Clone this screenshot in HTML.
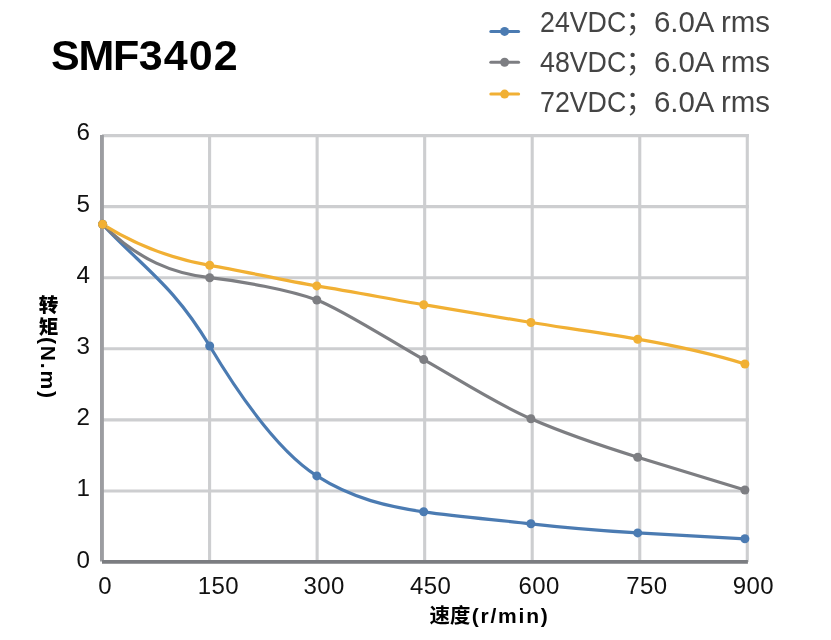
<!DOCTYPE html>
<html lang="zh"><head><meta charset="utf-8"><title>SMF3402</title>
<style>
html,body{margin:0;padding:0;background:#fff}
body{width:831px;height:640px;position:relative;overflow:hidden;font-family:"Liberation Sans","Noto Sans CJK SC",sans-serif;color:#111}
.t{position:absolute;left:51px;top:31px;font-size:43px;font-weight:bold;line-height:48px;letter-spacing:-0.3px;color:#000;white-space:nowrap}
.t .a{letter-spacing:-1.2px}
.t .b{letter-spacing:1.1px;margin-left:0.6px}
.yl{position:absolute;left:40px;width:50px;text-align:right;font-size:24.2px;line-height:28px;height:28px}
.xl{position:absolute;top:572px;width:80px;text-align:center;font-size:24px;line-height:28px;letter-spacing:0.4px}
.lg{position:absolute;font-size:30px;line-height:40px;height:40px;white-space:nowrap;color:#444;transform-origin:0 50%}
.lg.a{transform:scaleX(0.892)}
.lg.r{transform:scaleX(0.98)}
.lg.sc{font-size:28.5px}
.xt{position:absolute;left:429.5px;top:602px;font-size:20.4px;font-weight:bold;line-height:28px;white-space:nowrap;color:#000}
.xt span{font-size:21px;letter-spacing:1.8px;margin-left:1.4px}
.yt{position:absolute;left:34px;top:295px;width:28px;writing-mode:vertical-rl;font-size:19.6px;letter-spacing:2.6px;font-weight:bold;line-height:28px;white-space:nowrap;color:#000}
.yt span{font-size:21px;letter-spacing:1.85px;margin-top:-2.7px}
.yt b{position:relative;left:-1px}
</style></head><body>
<svg width="831" height="640" viewBox="0 0 831 640" style="position:absolute;left:0;top:0">
<g stroke="#cdced0" stroke-width="3.1" fill="none"><line x1="209.59" y1="134.05" x2="209.59" y2="562.02"/><line x1="317.13" y1="134.05" x2="317.13" y2="562.02"/><line x1="424.67" y1="134.05" x2="424.67" y2="562.02"/><line x1="532.21" y1="134.05" x2="532.21" y2="562.02"/><line x1="639.75" y1="134.05" x2="639.75" y2="562.02"/><line x1="747.29" y1="134.05" x2="747.29" y2="562.02"/><line x1="102.05" y1="135.60" x2="748.79" y2="135.60"/><line x1="102.05" y1="206.67" x2="748.79" y2="206.67"/><line x1="102.05" y1="277.74" x2="748.79" y2="277.74"/><line x1="102.05" y1="348.81" x2="748.79" y2="348.81"/><line x1="102.05" y1="419.88" x2="748.79" y2="419.88"/><line x1="102.05" y1="490.95" x2="748.79" y2="490.95"/></g>
<line x1="101.95" y1="135.1" x2="101.95" y2="561.6" stroke="#9c9da1" stroke-width="3.9"/>
<line x1="102" y1="561.9" x2="747.9" y2="561.9" stroke="#7b7d81" stroke-width="3.7"/>
<g fill="none" stroke-width="3.2" stroke-linecap="round" stroke-linejoin="round">
<path d="M102.60 224.30 C143.60 268.29 172.70 284.32 209.70 346.00 C242.30 400.34 281.10 453.02 316.80 475.90 C352.40 498.72 389.20 507.04 423.70 511.80 C459.43 516.73 495.17 519.69 530.90 523.80 C566.50 527.89 602.10 530.69 637.70 532.90 C673.43 535.12 709.17 537.01 744.90 538.80" stroke="#4b7bb2"/>
<path d="M102.60 224.30 C139.10 260.73 173.60 273.73 209.70 277.70 C240.30 281.07 288.90 289.70 316.80 300.00 C341.10 308.97 392.00 341.75 423.70 359.60 C458.00 378.91 493.90 402.71 530.90 418.80 C566.50 434.29 602.10 446.16 637.70 457.20 C673.43 468.28 709.17 479.28 744.90 490.00" stroke="#7d7e82"/>
<path d="M102.60 224.30 C137.10 245.69 175.00 259.44 209.70 265.30 C245.50 271.35 281.20 280.03 316.80 285.90 C352.43 291.78 388.07 298.57 423.70 304.70 C459.43 310.85 495.17 316.89 530.90 322.50 C566.50 328.09 602.10 332.97 637.70 339.20 C673.43 345.45 709.17 352.92 744.90 364.00" stroke="#f1b034"/>
</g>
<circle cx="102.6" cy="224.3" r="4.5" fill="#4b7bb2"/><circle cx="209.7" cy="346.0" r="4.5" fill="#4b7bb2"/><circle cx="316.8" cy="475.9" r="4.5" fill="#4b7bb2"/><circle cx="423.7" cy="511.8" r="4.5" fill="#4b7bb2"/><circle cx="530.9" cy="523.8" r="4.5" fill="#4b7bb2"/><circle cx="637.7" cy="532.9" r="4.5" fill="#4b7bb2"/><circle cx="744.9" cy="538.8" r="4.5" fill="#4b7bb2"/><circle cx="102.6" cy="224.3" r="4.5" fill="#7d7e82"/><circle cx="209.7" cy="277.7" r="4.5" fill="#7d7e82"/><circle cx="316.8" cy="300.0" r="4.5" fill="#7d7e82"/><circle cx="423.7" cy="359.6" r="4.5" fill="#7d7e82"/><circle cx="530.9" cy="418.8" r="4.5" fill="#7d7e82"/><circle cx="637.7" cy="457.2" r="4.5" fill="#7d7e82"/><circle cx="744.9" cy="490.0" r="4.5" fill="#7d7e82"/><circle cx="102.6" cy="224.3" r="4.5" fill="#f1b034"/><circle cx="209.7" cy="265.3" r="4.5" fill="#f1b034"/><circle cx="316.8" cy="285.9" r="4.5" fill="#f1b034"/><circle cx="423.7" cy="304.7" r="4.5" fill="#f1b034"/><circle cx="530.9" cy="322.5" r="4.5" fill="#f1b034"/><circle cx="637.7" cy="339.2" r="4.5" fill="#f1b034"/><circle cx="744.9" cy="364.0" r="4.5" fill="#f1b034"/>
<g stroke-width="3" stroke-linecap="round">
<line x1="490.8" y1="31.4" x2="518.6" y2="31.4" stroke="#4b7bb2"/><circle cx="504.6" cy="31.4" r="4.5" fill="#4b7bb2"/>
<line x1="490.8" y1="62.2" x2="518.6" y2="62.2" stroke="#7d7e82"/><circle cx="504.6" cy="62.2" r="4.5" fill="#7d7e82"/>
<line x1="490.8" y1="94.1" x2="518.6" y2="94.1" stroke="#f1b034"/><circle cx="504.6" cy="94.1" r="4.5" fill="#f1b034"/>
</g>
</svg>
<div class="t"><span class="a">SMF</span><span class="b">3402</span></div>
<div class="lg a" style="top:2.2px;left:539.6px">24VDC</div><div class="lg sc" style="top:1.0px;left:625.4px">；</div><div class="lg r" style="top:2.2px;left:653.8px">6.0A rms</div><div class="lg a" style="top:42.2px;left:539.6px">48VDC</div><div class="lg sc" style="top:41.0px;left:625.4px">；</div><div class="lg r" style="top:42.2px;left:653.8px">6.0A rms</div><div class="lg a" style="top:81.7px;left:539.6px">72VDC</div><div class="lg sc" style="top:80.5px;left:625.4px">；</div><div class="lg r" style="top:81.7px;left:653.8px">6.0A rms</div>
<div class="yl" style="top:118.3px">6</div><div class="yl" style="top:189.5px">5</div><div class="yl" style="top:260.7px">4</div><div class="yl" style="top:331.9px">3</div><div class="yl" style="top:403.1px">2</div><div class="yl" style="top:474.3px">1</div><div class="yl" style="top:545.5px">0</div>
<div class="xl" style="left:65.1px">0</div><div class="xl" style="left:178.4px">150</div><div class="xl" style="left:284.1px">300</div><div class="xl" style="left:390.6px">450</div><div class="xl" style="left:499.1px">600</div><div class="xl" style="left:606.8px">750</div><div class="xl" style="left:713.4px">900</div>
<div class="xt">速度<span>(r/min)</span></div>
<div class="yt"><b>转矩</b><span>(N.m)</span></div>
</body></html>
